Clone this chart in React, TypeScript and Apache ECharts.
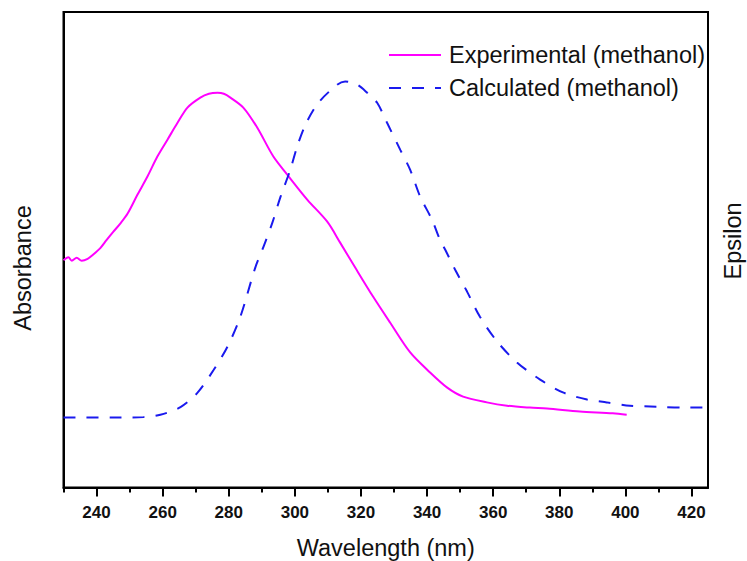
import React, { useEffect, useRef } from "react";
import * as echarts from "echarts";

// Experimental absorbance (methanol), arbitrary units 0..1 of plot height
const expWavelength = [230, 231.5, 232.5, 234, 235.5, 237.3, 239, 241.2, 243, 245.1, 247.3, 249.4, 252.4, 255.4, 258.4, 261.5, 264.5, 267.5, 271.4, 274, 276.6, 278.5, 280.5, 284.4, 288.6, 293.5, 297.7, 303.8, 309.8, 313.7, 318.3, 323.7, 328.8, 334.9, 340.9, 346.1, 350.9, 358.1, 364.2, 371.1, 376.3, 386.2, 396.2, 400.4];
const expAbsorbance = [0.478, 0.484, 0.477, 0.483, 0.477, 0.481, 0.49, 0.504, 0.52, 0.538, 0.556, 0.576, 0.616, 0.654, 0.696, 0.732, 0.767, 0.799, 0.82, 0.828, 0.83, 0.828, 0.82, 0.799, 0.757, 0.696, 0.658, 0.605, 0.559, 0.515, 0.462, 0.401, 0.347, 0.284, 0.242, 0.21, 0.191, 0.179, 0.172, 0.168, 0.166, 0.16, 0.156, 0.153];

// Calculated epsilon (methanol), arbitrary units 0..1 of plot height
const calcWavelength = [230, 245, 254.2, 259.3, 265.4, 270.5, 275.4, 279.6, 283.5, 288, 290.5, 293.2, 295.6, 298.6, 300.7, 303.2, 307.1, 312.8, 315.2, 318.9, 321.9, 324.9, 327.9, 331.9, 334.9, 337.9, 341.5, 343.9, 345.5, 348.5, 352.1, 356, 361.2, 367.2, 374.2, 381.1, 388.4, 394.4, 401.4, 409.5, 417.4, 425];
const calcEpsilon = [0.147, 0.147, 0.148, 0.153, 0.169, 0.199, 0.247, 0.296, 0.359, 0.462, 0.506, 0.557, 0.61, 0.668, 0.717, 0.763, 0.809, 0.847, 0.854, 0.847, 0.83, 0.809, 0.767, 0.71, 0.668, 0.612, 0.563, 0.521, 0.5, 0.458, 0.412, 0.359, 0.307, 0.263, 0.227, 0.2, 0.185, 0.179, 0.172, 0.17, 0.168, 0.168];

const majorTicks = [240, 260, 280, 300, 320, 340, 360, 380, 400, 420];
const minorTicks = [230, 250, 270, 290, 310, 330, 350, 370, 390, 410];

const seriesNames = ["Experimental (methanol)", "Calculated (methanol)"];
const xTitle = "Wavelength (nm)";
const yLeftTitle = "Absorbance";
const yRightTitle = "Epsilon";

const FONT = "Liberation Sans, Arial, sans-serif";

export default function App() {
  const ref = useRef<HTMLDivElement>(null);
  useEffect(() => {
    if (!ref.current) return;
    const chart = echarts.init(ref.current, null, { renderer: "svg" });
    const expData = expWavelength.map((x, i) => [x, expAbsorbance[i]]);
    const calcData = calcWavelength.map((x, i) => [x, calcEpsilon[i]]);
    chart.setOption({
      animation: false,
      backgroundColor: "#fff",
      textStyle: { fontFamily: FONT },
      grid: {
        left: 63.5,
        right: 39,
        top: 12,
        bottom: 73.5,
        outerBoundsMode: "none",
        containLabel: false,
        show: true,
        borderColor: "#000",
        borderWidth: 2,
        backgroundColor: "transparent",
      },
      legend: {
        orient: "vertical",
        left: 383,
        top: 38,
        itemWidth: 52,
        itemHeight: 14,
        itemGap: 9,
        data: seriesNames,
        itemStyle: { opacity: 0 },
        textStyle: {
          fontFamily: FONT,
          fontSize: 23.5,
          color: "#111",
          lineHeight: 24,
          padding: [0, 0, 0, 3],
        },
      },
      xAxis: [
        {
          type: "value",
          min: 230,
          max: 425,
          position: "bottom",
          axisLine: { show: true, onZero: false, lineStyle: { color: "#000", width: 2 } },
          axisTick: {
            show: true,
            customValues: majorTicks,
            length: 9,
            lineStyle: { color: "#000", width: 2 },
          },
          axisLabel: {
            customValues: majorTicks,
            margin: 16,
            fontFamily: FONT,
            fontSize: 17,
            fontWeight: "bold",
            color: "#111",
          },
          splitLine: { show: false },
          name: xTitle,
          nameLocation: "middle",
          nameGap: 48,
          nameTextStyle: { fontFamily: FONT, fontSize: 23.5, color: "#111" },
        },
        {
          type: "value",
          min: 230,
          max: 425,
          position: "bottom",
          axisLine: { show: false, onZero: false },
          axisTick: {
            show: true,
            customValues: minorTicks,
            length: 5,
            lineStyle: { color: "#000", width: 2 },
          },
          axisLabel: { show: false },
          splitLine: { show: false },
        },
      ],
      yAxis: [
        {
          type: "value",
          min: 0,
          max: 1,
          position: "left",
          axisLine: { show: true, lineStyle: { color: "#000", width: 2 } },
          axisTick: { show: false },
          axisLabel: { show: false },
          splitLine: { show: false },
        },
        {
          type: "value",
          min: 0,
          max: 1,
          position: "right",
          axisLine: { show: true, lineStyle: { color: "#000", width: 2 } },
          axisTick: { show: false },
          axisLabel: { show: false },
          splitLine: { show: false },
        },
      ],
      graphic: [
        {
          type: "text",
          x: 23,
          y: 268,
          rotation: Math.PI / 2,
          style: {
            text: yLeftTitle,
            fontFamily: FONT,
            fontSize: 23.5,
            fill: "#111",
            align: "center",
            verticalAlign: "middle",
          },
        },
        {
          type: "text",
          x: 733,
          y: 241,
          rotation: Math.PI / 2,
          style: {
            text: yRightTitle,
            fontFamily: FONT,
            fontSize: 23.5,
            fill: "#111",
            align: "center",
            verticalAlign: "middle",
          },
        },
      ],
      series: [
        {
          name: seriesNames[0],
          type: "line",
          xAxisIndex: 0,
          yAxisIndex: 0,
          data: expData,
          showSymbol: false,
          symbol: "none",
          smooth: 0.3,
          lineStyle: { color: "#ff00ff", width: 2 },
          itemStyle: { color: "#ff00ff" },
        },
        {
          name: seriesNames[1],
          type: "line",
          xAxisIndex: 0,
          yAxisIndex: 1,
          data: calcData,
          showSymbol: false,
          symbol: "none",
          smooth: 0.3,
          lineStyle: { color: "#1a1aee", width: 2, type: [12, 11] },
          itemStyle: { color: "#1a1aee" },
        },
      ],
    });
    return () => chart.dispose();
  }, []);
  return (
    <div
      ref={ref}
      style={{ position: "absolute", left: 0, top: 0, width: 747, height: 561 }}
    />
  );
}
